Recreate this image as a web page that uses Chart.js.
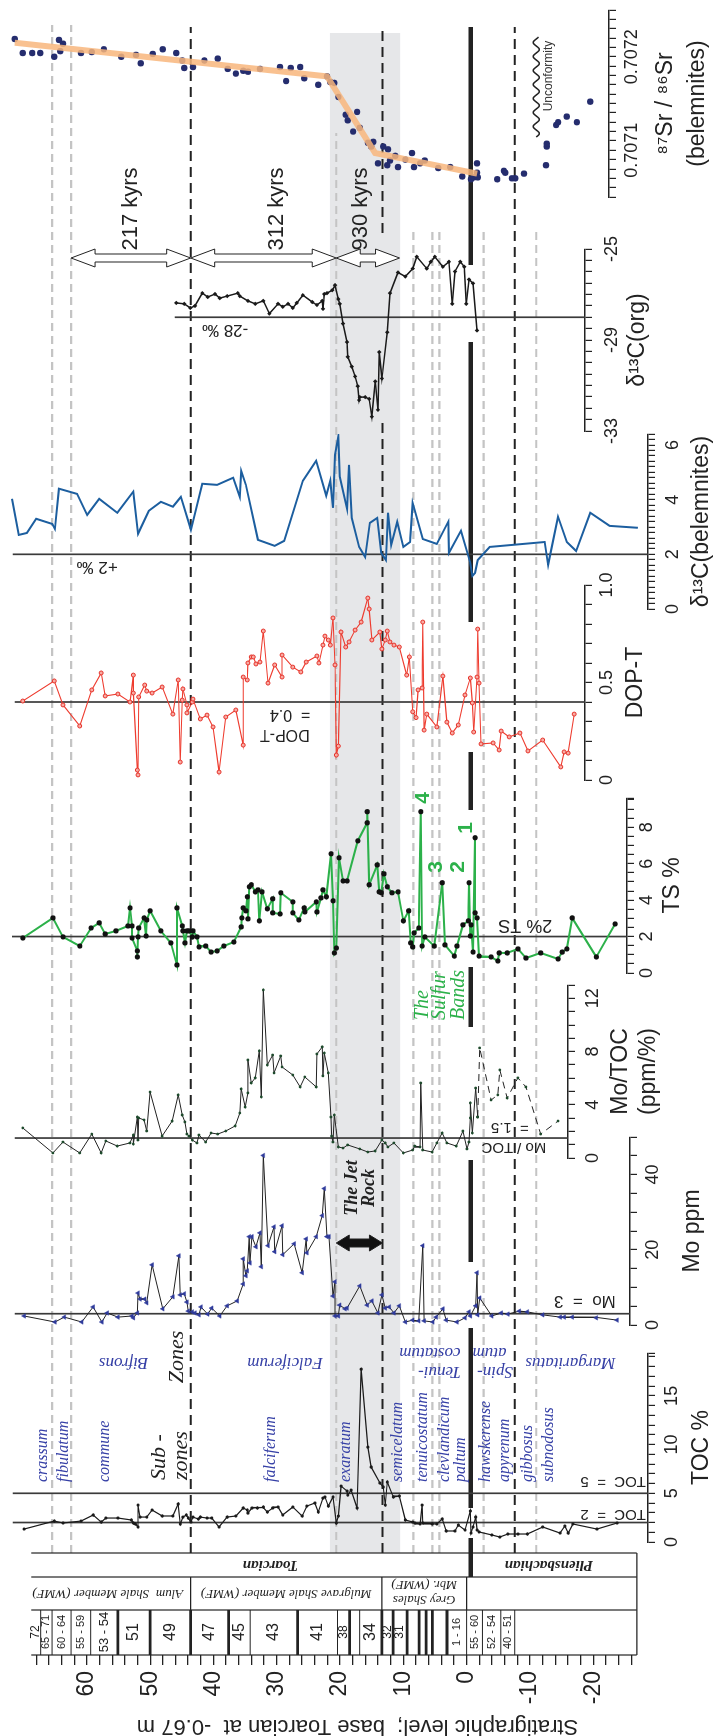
<!DOCTYPE html>
<html lang="en">
<head>
<meta charset="utf-8">
<title>Toarcian section</title>
<script src="https://cdn.jsdelivr.net/npm/chart.js@4.4.1/dist/chart.umd.min.js"></script>
<style>
  html, body { margin: 0; padding: 0; background: #fff; }
  body { width: 715px; height: 1736px; overflow: hidden; position: relative; }
  /* figure is laid out landscape, then turned a quarter turn anticlockwise */
  #fig { position: absolute; left: 0; top: 0; width: 1736px; height: 715px;
         transform-origin: 0 0; transform: translateY(1736px) rotate(-90deg); }
  #fig canvas { position: absolute; top: 0; }
</style>
</head>
<body>
<div id="fig"></div>
<script>
// every series is [stratigraphic level (m), value]
const tocData = [[67.0,1.33],[62.5,2.15],[61.2,1.95],[58.5,2.15],[56.7,2.77],[55.5,2.05],[54.8,2.46],[53.0,2.46],[51.0,2.26],[50.7,1.95],[50.4,1.85],[50.0,1.54],[50.0,3.79],[49.7,2.56],[48.7,2.56],[47.9,3.28],[46.4,2.67],[44.8,2.67],[44.0,3.90],[43.7,1.85],[43.3,2.56],[42.8,2.77],[42.5,2.46],[42.1,2.05],[41.8,2.56],[41.0,2.36],[40.7,2.56],[39.7,2.46],[39.0,2.46],[37.9,1.54],[36.7,2.56],[35.4,2.67],[34.3,3.49],[33.7,3.28],[33.6,2.97],[33.0,3.49],[32.2,3.49],[31.3,3.59],[30.7,3.08],[29.9,3.49],[29.1,3.59],[28.4,2.77],[26.9,3.59],[25.5,2.67],[24.8,3.69],[23.6,4.00],[23.1,3.08],[22.4,4.51],[22.1,4.62],[21.6,3.69],[20.9,4.62],[20.4,1.95],[20.1,2.67],[19.7,5.74],[18.8,5.23],[18.7,4.82],[18.2,5.33],[17.3,3.49],[16.7,17.74],[15.7,9.74],[15.2,7.69],[13.9,6.05],[13.4,5.64],[13.1,3.79],[12.8,6.15],[11.9,4.62],[11.0,4.72],[10.1,2.26],[9.0,2.05],[8.7,1.95],[7.9,1.85],[7.6,3.79],[7.5,1.95],[6.1,1.85],[5.4,1.85],[4.6,2.36],[4.0,1.13],[2.7,1.13],[2.2,1.74],[1.2,1.23],[0.4,3.18],[0.3,0.92],[0.0,1.54],[-0.4,2.56],[-0.6,1.23],[-0.9,1.03],[-2.8,0.72],[-4.0,0.51],[-5.2,0.82],[-6.7,0.82],[-8.1,0.82],[-10.4,1.54],[-13.0,0.92],[-13.7,1.64],[-14.2,0.92],[-14.9,1.85],[-18.5,1.33],[-21.5,1.95]];

const moData = [[67.0,2.4],[62.4,0.8],[61.0,2.1],[58.4,0.8],[56.7,4.8],[55.4,0.8],[54.6,3.2],[53.0,2.1],[50.9,2.4],[50.7,1.9],[50.1,3.2],[50.0,8.5],[49.7,6.9],[49.0,6.9],[48.7,5.9],[47.9,16.0],[46.3,4.3],[44.8,7.5],[43.9,18.4],[43.7,8.0],[43.1,8.3],[42.7,6.1],[42.5,3.7],[41.9,3.5],[41.5,3.2],[40.9,2.7],[40.6,4.8],[39.6,2.9],[39.0,4.5],[37.8,2.4],[36.7,5.1],[35.2,6.4],[34.3,10.9],[34.3,17.6],[33.9,13.1],[33.7,14.4],[33.4,23.5],[33.3,16.5],[33.0,23.5],[32.4,20.8],[31.8,24.5],[31.6,15.5],[31.3,45.1],[30.6,21.1],[29.7,26.1],[29.6,19.5],[28.5,26.4],[28.4,18.7],[26.7,21.6],[25.5,13.9],[24.9,22.9],[24.8,19.2],[23.4,23.5],[22.5,29.1],[22.2,36.3],[21.8,23.5],[21.5,23.5],[20.9,7.7],[20.6,11.5],[20.6,2.4],[20.1,2.4],[19.9,5.3],[19.1,4.3],[18.8,4.5],[16.9,10.4],[15.8,5.3],[15.1,6.4],[14.2,3.2],[13.6,8.0],[13.1,4.5],[12.5,4.8],[11.8,3.2],[11.0,5.1],[10.1,0.8],[9.0,1.3],[8.1,1.1],[7.5,21.1],[7.3,1.1],[6.0,0.8],[5.5,2.1],[4.5,4.3],[4.0,1.3],[2.4,0.8],[1.2,1.9],[0.6,3.5],[0.4,2.4],[-0.4,5.1],[-0.6,13.9],[-0.7,2.7],[-1.0,7.2],[-2.8,2.4],[-4.2,3.2],[-5.2,2.9],[-6.9,3.7],[-8.1,3.5],[-10.4,2.7],[-13.0,2.1],[-13.6,2.1],[-14.8,2.1],[-18.4,1.9],[-21.5,1.3]];

const moTocData = [[67.2,2.26],[62.7,0.38],[61.2,1.20],[58.7,0.38],[56.9,1.80],[55.5,0.38],[54.8,1.28],[53.1,0.90],[51.2,1.13],[50.7,1.73],[50.7,1.05],[50.1,3.08],[50.0,1.35],[49.9,3.01],[49.1,2.86],[48.7,2.03],[48.2,4.96],[46.4,1.65],[44.9,2.78],[44.0,4.74],[43.4,3.23],[43.0,2.71],[42.7,1.80],[42.4,1.65],[41.9,1.35],[41.2,1.13],[40.9,1.73],[39.9,1.20],[39.1,1.88],[38.1,1.80],[36.9,2.03],[35.5,2.41],[34.8,3.38],[34.6,5.19],[34.0,3.83],[33.6,4.89],[33.6,7.37],[33.1,5.64],[32.5,6.02],[31.9,8.05],[31.6,4.59],[31.3,12.63],[30.7,6.99],[29.9,7.74],[29.7,6.39],[28.7,7.67],[28.5,6.84],[26.9,6.24],[25.8,5.34],[25.1,6.09],[23.4,5.34],[23.3,7.82],[22.5,8.35],[22.4,6.17],[22.2,7.89],[21.6,6.39],[21.2,3.08],[21.1,1.65],[20.9,1.20],[20.7,3.23],[20.1,0.83],[19.4,0.75],[18.7,0.98],[16.9,0.68],[15.7,0.45],[14.6,0.53],[13.6,1.35],[13.1,1.13],[12.7,0.83],[11.8,1.13],[10.4,0.38],[9.0,0.60],[8.7,0.90],[7.9,0.83],[7.8,5.64],[7.5,0.60],[6.1,0.45],[5.4,1.13],[4.6,1.88],[3.9,1.13],[2.5,0.90],[1.5,2.03],[0.9,0.68],[0.6,1.20],[0.4,3.01],[0.4,4.14],[0.1,1.88],[-0.4,5.26],[-0.7,3.08]];
// Pliensbachian part of Mo/TOC, drawn dashed
const moTocLowerData = [[-0.7,3.08],[-1.0,8.27],[-2.7,4.36],[-3.7,4.74],[-4.0,6.62],[-5.1,4.51],[-6.7,6.02],[-7.9,5.34],[-10.1,1.80],[-12.7,2.78]];

const tsData = [[67.2,1.92],[62.7,3.02],[61.2,1.98],[58.7,1.48],[57.0,2.47],[55.8,2.75],[54.9,2.14],[53.3,2.31],[51.5,2.58],[51.2,3.57],[50.9,2.58],[50.9,1.92],[50.1,1.21],[50.1,0.88],[50.0,1.98],[49.9,2.47],[49.1,3.02],[48.8,2.03],[48.7,2.91],[48.2,3.41],[46.6,2.31],[45.1,1.65],[44.2,0.44],[44.2,3.57],[43.4,2.58],[43.3,2.31],[43.0,1.65],[42.7,2.31],[42.4,2.31],[41.9,1.98],[41.8,2.31],[41.2,1.98],[40.9,1.43],[39.9,1.48],[39.1,1.15],[38.2,1.21],[37.2,1.48],[35.7,1.70],[34.6,2.53],[34.5,3.02],[34.3,3.57],[33.9,3.41],[33.7,4.18],[33.6,2.97],[33.4,4.73],[33.1,4.84],[32.5,4.45],[32.1,4.56],[31.9,2.86],[31.5,4.45],[30.7,3.52],[29.9,4.07],[29.9,3.30],[28.8,3.24],[28.7,4.40],[26.9,3.90],[26.9,3.30],[26.0,2.91],[25.2,3.57],[25.1,3.35],[23.4,3.90],[23.3,3.35],[22.7,4.12],[22.4,4.56],[21.9,4.18],[21.2,6.54],[20.9,3.96],[20.7,1.10],[20.4,1.37],[20.0,6.32],[19.4,5.05],[18.8,5.05],[17.2,7.25],[15.8,8.24],[15.8,8.85],[15.5,4.84],[14.3,5.93],[14.0,4.45],[13.7,4.40],[13.3,5.44],[12.8,4.73],[12.1,4.40],[11.2,4.45],[10.4,2.86],[9.6,3.41],[9.3,1.65],[9.0,1.43],[8.8,2.20],[8.1,2.47],[7.8,8.85],[7.6,1.48],[7.2,1.98],[5.8,1.48],[4.6,4.95],[4.2,1.54],[2.8,0.93],[2.4,1.48],[1.5,2.64],[0.7,2.86],[0.6,4.95],[0.4,2.03],[0.3,2.64],[0.0,1.15],[-0.3,7.42],[-0.3,3.30],[-0.6,3.02],[-0.9,0.93],[-2.7,0.88],[-3.7,0.66],[-3.9,1.10],[-5.1,1.10],[-6.7,1.32],[-7.9,0.82],[-10.1,1.10],[-12.7,0.77],[-13.3,1.15],[-14.0,1.32],[-14.8,3.02],[-18.4,0.88],[-21.2,2.69]];

const dopData = [[67.2,0.405],[62.5,0.508],[61.2,0.385],[58.7,0.277],[56.9,0.462],[55.5,0.549],[54.9,0.431],[53.0,0.441],[51.2,0.400],[50.7,0.538],[50.7,0.446],[50.1,0.051],[50.0,0.026],[49.9,0.426],[49.0,0.487],[48.7,0.456],[47.9,0.446],[46.4,0.477],[44.8,0.338],[44.0,0.513],[43.7,0.092],[43.4,0.410],[43.3,0.467],[42.7,0.385],[42.7,0.344],[41.9,0.400],[41.8,0.415],[40.7,0.313],[39.7,0.333],[38.8,0.272],[37.9,0.041],[36.9,0.323],[35.4,0.359],[34.3,0.179],[34.3,0.528],[33.7,0.513],[33.6,0.600],[33.1,0.631],[32.8,0.631],[32.4,0.595],[31.8,0.605],[31.3,0.764],[30.6,0.497],[29.6,0.590],[28.5,0.528],[28.5,0.641],[26.9,0.579],[25.7,0.554],[24.9,0.605],[23.3,0.636],[23.0,0.600],[22.4,0.692],[22.1,0.738],[21.6,0.718],[21.3,0.692],[20.9,0.831],[20.6,0.590],[20.4,0.128],[20.1,0.174],[19.7,0.759],[19.0,0.682],[18.5,0.708],[17.6,0.769],[16.7,0.810],[15.7,0.933],[15.5,0.877],[15.1,0.718],[13.9,0.759],[13.6,0.672],[13.1,0.718],[12.8,0.764],[12.4,0.708],[11.8,0.692],[11.0,0.682],[9.9,0.538],[9.5,0.631],[9.0,0.350],[8.5,0.320],[8.2,0.462],[7.6,0.472],[7.5,0.810],[7.3,0.256],[6.9,0.338],[5.4,0.272],[4.5,0.533],[3.9,0.297],[3.1,0.241],[2.2,0.282],[1.2,0.436],[0.4,0.523],[0.1,0.395],[-0.1,0.246],[-0.6,0.528],[-0.7,0.774],[-0.9,0.497],[-1.2,0.185],[-3.0,0.190],[-3.9,0.154],[-4.2,0.251],[-5.4,0.221],[-7.0,0.241],[-8.2,0.149],[-10.4,0.205],[-13.1,0.067],[-13.6,0.144],[-14.2,0.138],[-15.1,0.338]];

const d13cBelData = [[68.8,4.03],[67.8,2.71],[66.6,2.78],[65.2,3.30],[62.8,3.11],[62.4,2.93],[61.8,4.40],[59.1,4.21],[57.6,3.44],[55.8,4.03],[53.1,3.52],[50.7,4.29],[50.0,2.75],[48.4,3.59],[46.6,3.92],[44.8,3.74],[43.6,4.10],[42.1,2.89],[40.4,4.58],[38.2,4.54],[35.8,4.80],[34.8,4.10],[34.6,5.05],[33.9,4.54],[32.1,2.53],[29.6,2.31],[28.2,2.49],[25.4,4.69],[23.4,5.42],[21.9,4.14],[21.3,4.69],[20.9,3.70],[20.6,5.64],[20.1,6.30],[19.9,4.84],[18.8,3.66],[18.5,5.27],[18.1,3.33],[17.0,2.27],[16.1,1.90],[15.4,3.15],[14.3,3.33],[13.7,2.05],[13.0,1.79],[12.7,3.52],[12.2,2.34],[11.3,3.19],[10.4,2.27],[9.4,2.45],[9.0,3.88],[7.5,2.56],[5.4,2.38],[3.7,3.19],[3.6,2.05],[1.8,2.86],[0.4,1.68],[0.1,1.21],[-0.3,1.32],[-0.7,1.79],[-2.5,2.27],[-10.7,2.45],[-11.2,1.61],[-12.7,3.37],[-14.0,2.45],[-15.4,2.12],[-17.5,3.52],[-20.4,3.04],[-24.6,2.97]];

const d13cOrgData = [[44.3,-27.37],[43.1,-27.41],[42.2,-27.59],[41.5,-27.50],[40.4,-26.94],[39.6,-27.11],[38.5,-26.98],[37.8,-27.16],[36.7,-27.07],[35.1,-26.94],[34.8,-27.07],[33.6,-27.28],[32.5,-27.41],[31.3,-27.28],[30.4,-27.84],[29.1,-27.41],[28.4,-27.54],[27.6,-27.41],[26.9,-27.59],[26.3,-27.37],[25.4,-27.03],[24.0,-27.33],[23.3,-27.46],[22.5,-27.28],[22.4,-27.63],[22.2,-26.98],[21.8,-26.94],[21.0,-26.81],[20.6,-26.59],[20.1,-27.20],[19.9,-27.41],[19.4,-28.28],[18.8,-29.09],[18.7,-29.74],[18.1,-30.17],[17.6,-30.60],[17.2,-31.03],[17.0,-31.64],[16.9,-31.51],[16.1,-31.51],[15.5,-31.59],[15.1,-32.37],[14.6,-30.82],[14.2,-32.07],[14.0,-29.53],[13.6,-30.69],[12.8,-28.66],[12.4,-26.94],[11.2,-26.03],[10.1,-26.21],[9.0,-25.86],[8.4,-25.34],[6.9,-25.86],[6.3,-25.56],[5.7,-25.34],[4.5,-25.78],[3.6,-25.56],[3.1,-27.41],[2.7,-25.99],[1.9,-25.56],[1.3,-25.78],[1.0,-27.41],[0.6,-26.34],[0.0,-26.51],[-0.6,-28.58]];

const srData = [[68.4,0.707219],[67.2,0.707204],[65.8,0.707204],[64.6,0.707204],[62.5,0.707200],[61.8,0.707218],[61.2,0.707214],[61.6,0.707206],[58.5,0.707204],[56.9,0.707205],[55.1,0.707208],[52.5,0.707200],[50.3,0.707202],[49.6,0.707193],[47.8,0.707203],[46.3,0.707208],[44.3,0.707204],[43.4,0.707196],[43.1,0.707188],[41.8,0.707189],[40.1,0.707196],[38.1,0.707198],[36.6,0.707187],[35.4,0.707182],[34.3,0.707185],[33.6,0.707184],[31.8,0.707187],[28.8,0.707189],[27.9,0.707174],[27.2,0.707188],[25.8,0.707189],[25.2,0.707177],[23.1,0.707170],[21.8,0.707179],[21.3,0.707173],[20.7,0.707172],[20.1,0.707157],[19.0,0.707138],[18.7,0.707132],[17.9,0.707120],[17.3,0.707141],[16.9,0.707124],[15.7,0.707108],[15.2,0.707104],[14.9,0.707109],[14.2,0.707086],[13.4,0.707104],[12.7,0.707101],[12.8,0.707084],[12.4,0.707089],[11.6,0.707094],[11.2,0.707082],[10.1,0.707090],[9.1,0.707097],[8.8,0.707082],[7.9,0.707086],[7.2,0.707089],[5.2,0.707081],[3.4,0.707082],[1.6,0.707072],[0.3,0.707069],[-0.1,0.707071],[-0.6,0.707076],[-0.6,0.707086],[-0.7,0.707071],[-3.6,0.707069],[-4.6,0.707078],[-4.8,0.707076],[-5.8,0.707070],[-6.3,0.707070],[-7.6,0.707075],[-10.9,0.707084],[-11.0,0.707104],[-11.0,0.707107],[-12.4,0.707127],[-12.7,0.707130],[-14.0,0.707136],[-15.5,0.707130],[-17.5,0.707152]];
const srTrend = [[68.4,0.707215],[21.8,0.707179],[14.6,0.707097],[-0.6,0.707075]];

// stratigraphy
const BASE_TOARCIAN = -0.67;
const jetBand = [21.6, 10.5];
const zoneBounds = [43.6, 13.3, -7.6];
const subzoneBounds = [65.5, 62.5, 20.6, 8.4, 5.4, 4.3, -2.7, -11.0];
const subzoneNames = ['crassum','fibulatum','commune','falciferum','exaratum','semicelatum','tenuicostatum','clevlandicum','paltum','hawskerense','apyrenum','gibbosus','subnodosus'];
const subzoneLevels = [66.9, 63.6, 57.2, 31.0, 19.1, 10.9, 6.9, 3.4, 0.9, -3.0, -6.0, -9.7, -13.0];
const zoneLines = ['Bifrons','Falciferum','Tenui-','costatum','Spin-','atum','Margaritatus'];
const zoneLineLevels = [54.2, 28.7, 4.3, 5.8, -4.5, -3.6, -16.4];
const bedEdges = [68.8, 67.3, 65.5, 62.5, 59.4, 55.1, 50.0, 43.6, 37.6, 34.2, 26.7, 20.4, 18.5, 16.9, 13.4, 11.6, 9.4, 7.5, 6.4, 5.4, 3.1, 0.0, -2.5, -5.4, -7.6, -26.9];
const bedNames = ['72','65 - 71','60 - 64','55 - 59','53 - 54','51','49','47','45','43','41','38','','34','32','31','','','','','1 - 16','55 - 60','52 - 54','40 - 51',''];
const thickBedEdges = [55.1, 50.0, 43.6, 37.6, 26.7, 18.5, 13.4, 11.6, 9.4, 7.5, 6.4, 5.4, 3.1];
const memberEdges = [43.6, 13.4, 0.0];
const memberNames = ['Alum  Shale Member (WMF)', 'Mulgrave Shale Member (WMF)', 'Grey Shales', 'Mbr. (WMF)'];
const memberLevels = [56.7, 28.5, 6.7, 6.7];
const stageNames = ['Toarcian', 'Pliensbachian'];
const stageLevels = [31.0, -13.0];
const kyrsBounds = [62.5, 43.6, 20.6, 10.6];
const kyrsLabels = ['217 kyrs', '312 kyrs', '930 kyrs'];
const kyrsLabelLevels = [53.0, 29.9, 16.7];
const sulfurBandNames = ['1', '2', '3', '4'];
const sulfurBandLevels = [0.1, 1.3, 4.8, 6.9];
const stratTicks = [];
for (let v = -26; v <= 68; v += 2) stratTicks.push(v);

const SANS = '"Liberation Sans", Arial, Helvetica, sans-serif';
const SERIF = '"Liberation Serif", "Times New Roman", serif';
const INK = '#222';
const ZONE_BLUE = '#3640a6';
const GREEN = '#2cb14a';
const FIG_W = 1736, FIG_H = 715;
const LEVEL_AT_TOP = 70.6;  // level at the top edge of every plot area
const PX_PER_M = 6.7;

Chart.defaults.font.family = SANS;
Chart.defaults.color = INK;

const fig = document.getElementById('fig');
function addCanvas(left, width) {
  const c = document.createElement('canvas');
  c.width = width; c.height = FIG_H;
  c.style.left = left + 'px';
  c.style.width = width + 'px'; c.style.height = FIG_H + 'px';
  fig.appendChild(c);
  return c;
}

function label(ctx, s, x, y, font, color, align, vertical) {
  ctx.save();
  ctx.translate(x, y);
  if (vertical) ctx.rotate(-Math.PI / 2);
  ctx.font = font;
  ctx.fillStyle = color;
  ctx.textAlign = align || 'center';
  ctx.textBaseline = 'middle';
  ctx.fillText(s, 0, 0);
  ctx.restore();
}

function seg(ctx, x1, y1, x2, y2) {
  ctx.beginPath(); ctx.moveTo(x1, y1); ctx.lineTo(x2, y2); ctx.stroke();
}

function doubleArrow(ctx, xc, y1, y2, shaft, head, len, fill) {
  ctx.beginPath();
  ctx.moveTo(xc, y1);
  ctx.lineTo(xc + head, y1 + len); ctx.lineTo(xc + shaft, y1 + len);
  ctx.lineTo(xc + shaft, y2 - len); ctx.lineTo(xc + head, y2 - len);
  ctx.lineTo(xc, y2);
  ctx.lineTo(xc - head, y2 - len); ctx.lineTo(xc - shaft, y2 - len);
  ctx.lineTo(xc - shaft, y1 + len); ctx.lineTo(xc - head, y1 + len);
  ctx.closePath();
  ctx.fillStyle = fill; ctx.fill();
  ctx.strokeStyle = INK; ctx.lineWidth = 1; ctx.stroke();
}

// background: level axis, lithostratigraphy, zones, shading, annotations
const backdrop = {
  id: 'backdrop',
  afterDraw(chart) {
    const ctx = chart.ctx;
    const Y = lv => chart.scales.y.getPixelForValue(lv);
    ctx.save();

    ctx.fillStyle = '#e6e7e9';
    ctx.fillRect(183, Y(jetBand[0]), 1520, Y(jetBand[1]) - Y(jetBand[0]));

    ctx.strokeStyle = '#c4c4c4'; ctx.lineWidth = 2.2; ctx.setLineDash([8, 5]);
    const subEnd = [1711, 1711, 1603, 1504, 1504, 1504, 1504, 1504];
    subzoneBounds.forEach((lv, i) => seg(ctx, 183, Y(lv), subEnd[i], Y(lv)));

    ctx.strokeStyle = INK; ctx.lineWidth = 2; ctx.setLineDash([10, 6]);
    zoneBounds.forEach(lv => {
      if (lv === 13.3) { seg(ctx, 183, Y(lv), 1313, Y(lv)); seg(ctx, 1503, Y(lv), 1709, Y(lv)); }
      else seg(ctx, 183, Y(lv), 1709, Y(lv));
    });
    ctx.setLineDash([]);

    // base of the Toarcian
    ctx.lineWidth = 4.5;
    [[1471,1709],[1114,1394],[926,984],[709,769],[474,576],[228,408],[159,198]]
      .forEach(([a, b]) => seg(ctx, a, Y(BASE_TOARCIAN), b, Y(BASE_TOARCIAN)));

    // lithostratigraphic columns
    const yTop = Y(bedEdges[0]), yEnd = Y(bedEdges[bedEdges.length - 1]);
    ctx.lineWidth = 1.2;
    [81, 126, 159, 183].forEach(x => seg(ctx, x, yTop, x, yEnd));
    seg(ctx, 81, yEnd, 183, yEnd);
    bedEdges.slice(1, -1).forEach(lv => {
      ctx.lineWidth = thickBedEdges.includes(lv) ? 2.8 : 1;
      seg(ctx, 81, Y(lv), 126, Y(lv));
    });
    ctx.lineWidth = 1.2;
    memberEdges.forEach(lv => seg(ctx, 126, Y(lv), 159, Y(lv)));
    bedNames.forEach((s, i) => {
      if (!s) return;
      const h = Y(bedEdges[i + 1]) - Y(bedEdges[i]);
      const size = s.includes('-') ? (h >= 20 ? 13 : 11) : (h >= 20 ? 16 : 12);
      label(ctx, s, 104, (Y(bedEdges[i]) + Y(bedEdges[i + 1])) / 2, size + 'px ' + SANS, INK);
    });
    const memberX = [143, 143, 137, 152];
    memberNames.forEach((s, i) =>
      label(ctx, s, memberX[i], Y(memberLevels[i]), 'italic 13px ' + SERIF, INK, 'center', true));
    stageNames.forEach((s, i) =>
      label(ctx, s, 171, Y(stageLevels[i]), 'italic bold 15px ' + SERIF, INK, 'center', true));

    // zones and subzones
    subzoneNames.forEach((s, i) =>
      label(ctx, s, 254, Y(subzoneLevels[i]), 'italic 16px ' + SERIF, ZONE_BLUE, 'left'));
    label(ctx, 'Sub -', 256, Y(48.5), 'italic 22px ' + SERIF, INK, 'left');
    label(ctx, 'zones', 256, Y(45.1), 'italic 22px ' + SERIF, INK, 'left');
    const zoneX = [374, 374, 365, 384, 365, 384, 374];
    zoneLines.forEach((s, i) =>
      label(ctx, s, zoneX[i], Y(zoneLineLevels[i]), 'italic 17px ' + SERIF, ZONE_BLUE, 'center', true));
    label(ctx, 'Zones', 379, Y(45.8), 'italic 22px ' + SERIF, INK);

    // the Jet Rock
    label(ctx, 'The Jet', 548, Y(18.1), 'italic bold 18px ' + SERIF, INK);
    label(ctx, 'Rock', 548, Y(15.4), 'italic bold 18px ' + SERIF, INK);
    doubleArrow(ctx, 493, Y(20.6), Y(13.3), 4, 8, 13, '#111');

    // the Sulfur Bands
    label(ctx, 'The', 716, Y(6.9), 'italic 20px ' + SERIF, GREEN, 'left');
    label(ctx, 'Sulfur', 716, Y(4.2), 'italic 20px ' + SERIF, GREEN, 'left');
    label(ctx, 'Bands', 716, Y(1.2), 'italic 20px ' + SERIF, GREEN, 'left');
    const bandX = [908, 869, 869, 938];
    sulfurBandNames.forEach((s, i) =>
      label(ctx, s, bandX[i], Y(sulfurBandLevels[i]), 'bold 21px ' + SANS, GREEN));

    // durations
    for (let i = 0; i < kyrsLabels.length; i++) {
      doubleArrow(ctx, 1478, Y(kyrsBounds[i]), Y(kyrsBounds[i + 1]), 4, 9, 24, '#fff');
      label(ctx, kyrsLabels[i], 1527, Y(kyrsLabelLevels[i]), '22px ' + SANS, INK);
    }

    // unconformity
    ctx.strokeStyle = INK; ctx.lineWidth = 1.5;
    ctx.beginPath();
    for (let x = 1599; x <= 1699; x++) {
      const y = Y(-11.0) + 3 * Math.sin((x - 1599) / 14 * 2 * Math.PI);
      if (x === 1599) ctx.moveTo(x, y); else ctx.lineTo(x, y);
    }
    ctx.stroke();
    label(ctx, 'Unconformity', 1660, Y(-13.0), '12px ' + SANS, '#333');
    ctx.restore();
  }
};

new Chart(addCanvas(0, FIG_W), {
  type: 'line',
  data: { datasets: [] },
  options: {
    responsive: false, animation: false,
    layout: { padding: 0, autoPadding: false },
    plugins: { legend: { display: false }, tooltip: { enabled: false } },
    scales: {
      x: { type: 'linear', display: false, min: 0, max: 1 },
      y: {
        type: 'linear', min: LEVEL_AT_TOP - FIG_H / PX_PER_M, max: LEVEL_AT_TOP,
        afterFit: s => { s.width = 81; },
        afterBuildTicks: s => { s.ticks = stratTicks.map(v => ({ value: v })); },
        border: { display: false },
        grid: { drawOnChartArea: false, tickLength: 10, color: INK, lineWidth: 1.3 },
        ticks: { autoSkip: false, padding: 6, color: INK, font: { size: 23 },
                 callback: v => (v % 10 === 0 ? String(v) : '') },
        title: { display: true, text: 'Stratigraphic level;  base Toarcian at  -0.67 m',
                 color: INK, font: { size: 22 }, padding: { top: -3, bottom: 0 } }
      }
    }
  },
  plugins: [backdrop]
});

// reference lines inside a panel
function refPlugin(refs) {
  return {
    id: 'refs',
    beforeDatasetsDraw(chart) {
      const { ctx, chartArea } = chart;
      const xs = chart.scales.x, ys = chart.scales.y;
      ctx.save();
      refs.forEach(r => {
        const px = xs.getPixelForValue(r.value);
        ctx.strokeStyle = '#3a3a3a'; ctx.lineWidth = 1.7;
        seg(ctx, px, ys.getPixelForValue(r.from), px, chartArea.bottom);
        r.text.forEach(t =>
          label(ctx, t.s, px + t.dx, ys.getPixelForValue(t.level), t.size + 'px ' + SANS, INK, 'center', true));
      });
      ctx.restore();
    }
  };
}

function tickList(min, max, step) {
  const out = [];
  const n = Math.round((max - min) / step);
  for (let i = 0; i <= n; i++) out.push(+(min + i * step).toFixed(8));
  if (out[out.length - 1] < max - step * 0.01) out.push(max);
  return out;
}

const pts = arr => arr.map(([lv, v]) => ({ x: v, y: lv }));

function panel(cfg, datasets) {
  const width = Math.round((cfg.max - cfg.min) * cfg.px) + 40;
  const ticks = tickList(cfg.min, cfg.max, cfg.step);
  return new Chart(addCanvas(Math.round(cfg.x0) - 20, width), {
    type: 'line',
    data: { datasets },
    options: {
      responsive: false, animation: false,
      layout: { padding: { left: 20, right: 20, top: 0, bottom: 0 }, autoPadding: false },
      plugins: { legend: { display: false }, tooltip: { enabled: false } },
      scales: {
        x: {
          type: 'linear', position: 'bottom', min: cfg.min, max: cfg.max,
          afterFit: s => { s.height = FIG_H - cfg.axisY; },
          afterBuildTicks: s => { s.ticks = ticks.map(v => ({ value: v })); },
          border: { color: INK, width: 1.5 },
          grid: { drawOnChartArea: false, tickLength: 7, color: INK, lineWidth: 1.2 },
          ticks: {
            autoSkip: false, maxRotation: 0, minRotation: 0, padding: cfg.tickPad,
            color: INK, font: { size: 18 },
            callback: v => (cfg.major.some(m => Math.abs(m - v) < cfg.step / 100) ? cfg.fmt(v) : '')
          },
          title: { display: true, text: cfg.title, color: INK,
                   font: { size: 23, lineHeight: cfg.titleLH || 1.2 },
                   padding: { top: 0, bottom: cfg.titlePad } }
        },
        y: { type: 'linear', display: false, min: LEVEL_AT_TOP - cfg.axisY / PX_PER_M, max: LEVEL_AT_TOP }
      }
    },
    plugins: [refPlugin(cfg.refs)]
  });
}

const plain = v => String(v);

panel({ x0: 194, px: 9.75, min: 0, max: 19.4, step: 1, major: [0, 5, 10, 15], fmt: plain,
        axisY: 648, tickPad: 6, title: 'TOC %', titlePad: 0,
        refs: [{ value: 2, from: 68.7, text: [{ s: 'TOC  =  2', dx: 8, level: -20.9, size: 15 }] },
               { value: 5, from: 68.7, text: [{ s: 'TOC  =  5', dx: 12, level: -20.9, size: 15 }] }] },
  [{ data: pts(tocData), borderColor: '#1a1a1a', borderWidth: 1.2, pointRadius: 1.6,
     pointBackgroundColor: '#1a1a1a', pointBorderWidth: 0, tension: 0 }]);

panel({ x0: 411, px: 3.75, min: 0, max: 50, step: 5, major: [0, 20, 40], fmt: plain,
        axisY: 630, tickPad: 5, title: 'Mo ppm', titlePad: 9,
        refs: [{ value: 3, from: 68.4, text: [{ s: 'Mo  =  3', dx: 13, level: -16.7, size: 17 }] }] },
  [{ data: pts(moData), borderColor: '#222', borderWidth: 1, pointRadius: 2.6, pointStyle: 'triangle',
     pointBackgroundColor: '#2f3b9c', pointBorderColor: '#2f3b9c', pointBorderWidth: 0.5, tension: 0 }]);

panel({ x0: 578, px: 13.3, min: 0, max: 13, step: 1, major: [0, 4, 8, 12], fmt: plain,
        axisY: 568, tickPad: 7, title: ['Mo/TOC', '(ppm/%)'], titlePad: 53,
        refs: [{ value: 1.5, from: 68.4, text: [{ s: 'Mo / TOC', dx: -9, level: -6.1, size: 15 },
                                                 { s: '=  1.5', dx: 11, level: -5.5, size: 15 }] }] },
  [{ data: pts(moTocData), borderColor: '#222', borderWidth: 1, pointRadius: 1.4,
     pointBackgroundColor: '#1e4a2c', pointBorderWidth: 0, tension: 0 },
   { data: pts(moTocLowerData), borderColor: '#222', borderWidth: 1, borderDash: [7, 5], pointRadius: 1.4,
     pointBackgroundColor: '#1e4a2c', pointBorderWidth: 0, tension: 0 }]);

panel({ x0: 763, px: 18.2, min: 0, max: 9.6, step: 0.5, major: [0, 2, 4, 6, 8], fmt: plain,
        axisY: 627, tickPad: 2, title: 'TS %', titlePad: 29,
        refs: [{ value: 2, from: 68.8, text: [{ s: '2% TS', dx: 12, level: -7.8, size: 18 }] }] },
  [{ data: pts(tsData), borderColor: GREEN, borderWidth: 2, pointRadius: 2.6,
     pointBackgroundColor: '#111', pointBorderWidth: 0, tension: 0 }]);

panel({ x0: 956, px: 195, min: 0, max: 1, step: 0.1, major: [0, 0.5, 1],
        fmt: v => (v === 0 ? '0' : v.toFixed(1)),
        axisY: 585, tickPad: 4, title: 'DOP-T', titlePad: 66,
        refs: [{ value: 0.4, from: 68.4, text: [{ s: 'DOP-T', dx: -32, level: 28.1, size: 16 },
                                                 { s: '=  0.4', dx: -12, level: 27.3, size: 16 }] }] },
  [{ data: pts(dopData), borderColor: '#ee3b2e', borderWidth: 1.1, pointRadius: 2,
     pointBackgroundColor: '#f8aaa2', pointBorderColor: '#e5322a', pointBorderWidth: 1, tension: 0 }]);

panel({ x0: 1127, px: 27.3, min: 0, max: 6.4, step: 0.2, major: [0, 2, 4, 6], fmt: plain,
        axisY: 648, tickPad: 7, title: 'δ¹³C(belemnites)', titlePad: 0,
        refs: [{ value: 2, from: 68.7, text: [{ s: '+2 ‰', dx: -12, level: 56.1, size: 17 }] }] },
  [{ data: pts(d13cBelData), borderColor: '#1c5e9f', borderWidth: 2, pointRadius: 0, tension: 0 }]);

panel({ x0: 1303, px: 23.25, min: -33, max: -25, step: 0.5, major: [-33, -29, -25], fmt: plain,
        axisY: 585, tickPad: 9, title: 'δ¹³C(org)', titlePad: 64,
        refs: [{ value: -28, from: 44.5, text: [{ s: '-28 ‰', dx: -12, level: 37.0, size: 17 }] }] },
  [{ data: pts(d13cOrgData), borderColor: '#1a1a1a', borderWidth: 1.5, pointRadius: 2.2, pointStyle: 'rectRot',
     pointBackgroundColor: '#1a1a1a', pointBorderWidth: 0, tension: 0 }]);

panel({ x0: 1539, px: 935000, min: 0.70705, max: 0.70725, step: 0.00001, major: [0.7071, 0.7072],
        fmt: v => v.toFixed(4),
        axisY: 609, tickPad: 5, title: ['⁸⁷Sr / ⁸⁶Sr', '(belemnites)'], titlePad: 1, titleLH: 1.4,
        refs: [] },
  [{ data: pts(srTrend), borderColor: 'rgba(248,182,125,0.85)', borderWidth: 6, pointRadius: 0, tension: 0, order: 0 },
   { data: pts(srData), showLine: false, pointRadius: 3.2, pointBackgroundColor: '#252d6e',
     pointBorderWidth: 0, order: 1 }]);
</script>
</body>
</html>
